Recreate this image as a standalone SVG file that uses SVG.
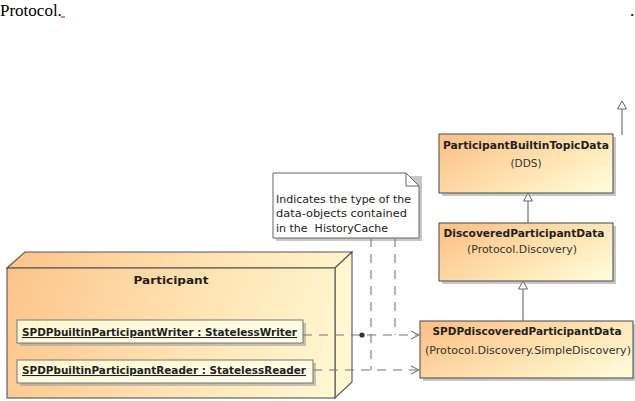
<svg xmlns="http://www.w3.org/2000/svg" width="635" height="401" viewBox="0 0 635 401">
<defs>
<linearGradient id="gOrange" x1="0" y1="0.2" x2="1" y2="0.8">
<stop offset="0" stop-color="#FCC38A"/>
<stop offset="0.55" stop-color="#FFE2B0"/>
<stop offset="1" stop-color="#FFFAD6"/>
</linearGradient>
<linearGradient id="gPart" gradientUnits="userSpaceOnUse" x1="7" y1="260" x2="351" y2="390">
<stop offset="0" stop-color="#FCC38A"/>
<stop offset="0.55" stop-color="#FFE4B4"/>
<stop offset="1" stop-color="#FFFAD6"/>
</linearGradient>
<linearGradient id="gInner" x1="0" y1="0" x2="1" y2="1">
<stop offset="0" stop-color="#FFF6CC"/>
<stop offset="1" stop-color="#FFFFF2"/>
</linearGradient>
<marker id="open" markerWidth="10" markerHeight="10" refX="9" refY="5" orient="auto" markerUnits="userSpaceOnUse">
<path d="M1,1 L9,5 L1,9" fill="none" stroke="#777" stroke-width="1.1"/>
</marker>
<marker id="tri" markerWidth="12" markerHeight="12" refX="10" refY="6" orient="auto" markerUnits="userSpaceOnUse">
<path d="M2,1.5 L10,6 L2,10.5 Z" fill="#fff" stroke="#666" stroke-width="1"/>
</marker>
</defs>
<style>
.box{stroke:#555;stroke-width:1.1}
.shadow{fill:#999;opacity:0.55}
.title{font-family:"DejaVu Sans",sans-serif;font-weight:bold;font-size:11px;fill:#222}
.sub{font-family:"DejaVu Sans",sans-serif;font-size:10.5px;fill:#333}
.inst{font-family:"DejaVu Sans",sans-serif;font-weight:bold;font-size:10.5px;fill:#222;text-decoration:underline}
.note{font-family:"DejaVu Sans",sans-serif;font-size:10.5px;fill:#222;white-space:pre}
.dash{fill:none;stroke:#777;stroke-width:1.1;stroke-dasharray:9,7}
.gen{fill:none;stroke:#666;stroke-width:1.1}
</style>

<text x="0" y="16" font-family="Liberation Serif,serif" font-size="17" fill="#000">Protocol.</text>
<line x1="61" y1="17" x2="65" y2="17" stroke="#c00" stroke-width="1"/>
<text x="630" y="16" font-family="Liberation Serif,serif" font-size="17" fill="#000">.</text>

<g id="participant">
<polygon class="box" points="7,268 25,252 352,252 335,268" fill="url(#gPart)"/>
<polygon class="box" points="335,268 352,252 352,382 335,398" fill="#FFF8D2"/>
<rect class="box" x="7" y="268" width="328" height="130" fill="url(#gPart)"/>
<text class="title" x="171" y="284" text-anchor="middle" font-size="13" textLength="75" lengthAdjust="spacingAndGlyphs">Participant</text>
</g>

<g id="writer">
<rect class="shadow" x="20" y="323" width="286" height="23"/>
<rect x="17" y="320" width="286" height="23" fill="url(#gInner)" stroke="#777" stroke-width="1"/>
<text class="inst" x="22" y="336" textLength="275" lengthAdjust="spacingAndGlyphs">SPDPbuiltinParticipantWriter : StatelessWriter</text>
</g>

<g id="reader">
<rect class="shadow" x="20" y="363" width="296" height="23"/>
<rect x="17" y="360" width="296" height="23" fill="url(#gInner)" stroke="#777" stroke-width="1"/>
<text class="inst" x="22" y="374" textLength="284" lengthAdjust="spacingAndGlyphs">SPDPbuiltinParticipantReader : StatelessReader</text>
</g>

<g id="note">
<path d="M276,176 L422,176 L422,241 L276,241 Z" class="shadow"/>
<path d="M273,173 L406,173 L419,186 L419,238 L273,238 Z" fill="#fff" stroke="#666" stroke-width="1"/>
<path d="M406,173 L406,186 L419,186" fill="none" stroke="#666" stroke-width="1"/>
<text class="note" x="276" y="203" textLength="135" lengthAdjust="spacingAndGlyphs">Indicates the type of the</text>
<text class="note" x="276" y="217" textLength="131" lengthAdjust="spacingAndGlyphs">data-objects contained</text>
<text class="note" x="276" y="232" textLength="112" lengthAdjust="spacingAndGlyphs" xml:space="preserve">in the  HistoryCache</text>
</g>

<g id="ParticipantBuiltinTopicData">
<rect class="shadow" x="442" y="137" width="174" height="59"/>
<rect class="box" x="439" y="134" width="174" height="59" fill="url(#gOrange)"/>
<text class="title" x="526" y="149" text-anchor="middle" textLength="166" lengthAdjust="spacingAndGlyphs">ParticipantBuiltinTopicData</text>
<text class="sub" x="526" y="167" text-anchor="middle">(DDS)</text>
</g>

<g id="DiscoveredParticipantData">
<rect class="shadow" x="442" y="226" width="174" height="58"/>
<rect class="box" x="439" y="223" width="174" height="58" fill="url(#gOrange)"/>
<text class="title" x="524" y="237" text-anchor="middle" textLength="161" lengthAdjust="spacingAndGlyphs">DiscoveredParticipantData</text>
<text class="sub" x="522" y="253" text-anchor="middle" textLength="110" lengthAdjust="spacingAndGlyphs">(Protocol.Discovery)</text>
</g>

<g id="SPDPdiscoveredParticipantData">
<rect class="shadow" x="423" y="324" width="213" height="57"/>
<rect class="box" x="420" y="321" width="213" height="57" fill="url(#gOrange)"/>
<text class="title" x="527" y="335" text-anchor="middle" textLength="189" lengthAdjust="spacingAndGlyphs">SPDPdiscoveredParticipantData</text>
<text class="sub" x="528" y="354" text-anchor="middle" textLength="206" lengthAdjust="spacingAndGlyphs">(Protocol.Discovery.SimpleDiscovery)</text>
</g>

<g id="connectors">
<path class="dash" d="M303,335 H419" marker-end="url(#open)"/>
<path class="dash" d="M313,370 H419" marker-end="url(#open)"/>
<path class="dash" d="M371,238 V370"/>
<path class="dash" d="M395,238 V335"/>
<circle cx="362" cy="335" r="2.6" fill="#333"/>
<path class="gen" d="M523,321 V281" marker-end="url(#tri)"/>
<path class="gen" d="M528,223 V193" marker-end="url(#tri)"/>
<path class="gen" d="M622,135 V101" marker-end="url(#tri)"/>
</g>
</svg>
